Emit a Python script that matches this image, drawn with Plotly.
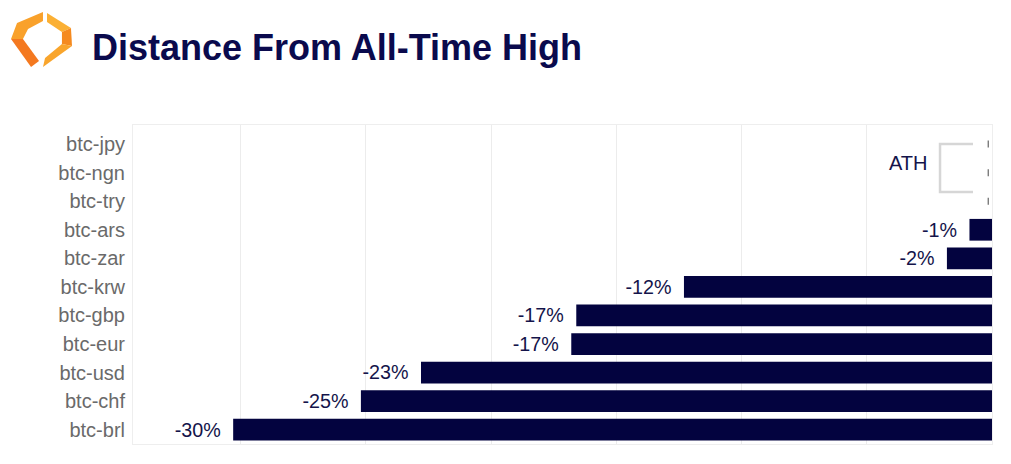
import plotly.graph_objects as go

# ---- data ----
pairs = ["btc-jpy", "btc-ngn", "btc-try", "btc-ars", "btc-zar", "btc-krw",
         "btc-gbp", "btc-eur", "btc-usd", "btc-chf", "btc-brl"]
distance_pct = [0.0, 0.0, 0.0, -0.9, -1.8, -12.3, -16.6, -16.8, -22.8, -25.2, -30.3]
ath_pairs = ["btc-jpy", "btc-ngn", "btc-try"]
ath_values = [0.0, 0.0, 0.0]
title_text = "Distance From All-Time High"
ath_label = "ATH"

W, H = 1011, 464
L, R, T, B = 133, 19, 125, 20
PW, PH = W - L - R, H - T - B

def px(x):
    return (x - L) / PW

def py(y):
    return (H - B - y) / PH

def path(pts):
    return "M " + " L ".join(f"{px(x):.4f},{py(y):.4f}" for x, y in pts) + " Z"

NAVY = "#03033f"
labels = [(f"{v:.0f}%\u00a0\u2009" if v != 0 else "") for v in distance_pct]

fig = go.Figure()
fig.add_trace(go.Bar(
    x=distance_pct, y=pairs, orientation="h",
    marker=dict(color=NAVY, line=dict(width=0)),
    text=labels, textposition="outside", cliponaxis=False,
    textfont=dict(family="Liberation Sans, Arial", size=20, color="#14144a"),
    hoverinfo="skip",
))
fig.add_trace(go.Scatter(
    x=[v - 0.15 for v in ath_values], y=ath_pairs, mode="markers",
    marker=dict(symbol="line-ns", size=5, line=dict(width=1.2, color="#666666")),
    hoverinfo="skip", cliponaxis=False,
))

shapes = []
# logo
logo_parts = [
    ([(43, 12), (17, 23), (11, 39), (23, 39), (28, 29), (43, 21)], "#f9a12b"),
    ([(11, 39), (31, 67), (39, 61), (23, 39)], "#f47920"),
    ([(47, 13), (71, 28), (62, 32), (47, 22)], "#fbb034"),
    ([(71, 28), (72, 46), (62, 44), (62, 32)], "#f58a1f"),
    ([(72, 46), (43, 67), (45, 58), (62, 44)], "#f9a52c"),
]
for pts, col in logo_parts:
    shapes.append(dict(type="path", xref="paper", yref="paper", path=path(pts),
                       fillcolor=col, line=dict(width=0), layer="above"))
# ATH bracket
shapes.append(dict(type="path", xref="paper", yref="paper",
                   path=f"M {px(973):.4f},{py(144):.4f} L {px(940):.4f},{py(144):.4f} "
                        f"L {px(940):.4f},{py(192):.4f} L {px(973):.4f},{py(192):.4f}",
                   line=dict(color="#d6d6d6", width=2.5)))

fig.update_layout(
    width=W, height=H,
    margin=dict(l=L, r=R, t=T, b=B),
    paper_bgcolor="white", plot_bgcolor="white",
    showlegend=False, bargap=0.24,
    shapes=shapes,
    annotations=[
        dict(text=title_text, xref="paper", yref="paper", x=px(90), y=py(47),
             xanchor="left", yanchor="middle", showarrow=False,
             font=dict(family="Liberation Sans, Arial", size=36, color="#0a0a4d",
                       weight="bold")),
        dict(text=ath_label, xref="paper", yref="paper", x=px(908), y=py(163),
             xanchor="center", yanchor="middle", showarrow=False,
             font=dict(family="Liberation Sans, Arial", size=20, color="#14144a")),
    ],
    xaxis=dict(range=[-34.3, 0], dtick=5, showticklabels=False, showgrid=True,
               gridcolor="#ececec", gridwidth=1, zeroline=False,
               showline=True, mirror=True, linecolor="#eeeeee", linewidth=1,
               fixedrange=True),
    yaxis=dict(categoryorder="array", categoryarray=pairs[::-1],
               showgrid=False, zeroline=False, showline=True, mirror=True,
               linecolor="#eeeeee", linewidth=1, ticks="",
               ticklabelstandoff=3,
               tickfont=dict(family="Liberation Sans, Arial", size=20, color="#6a6a6a"),
               fixedrange=True),
)

fig.write_html("out.html", config={"displayModeBar": False},
               post_script="document.body.style.margin='0';document.body.style.overflow='hidden';")
